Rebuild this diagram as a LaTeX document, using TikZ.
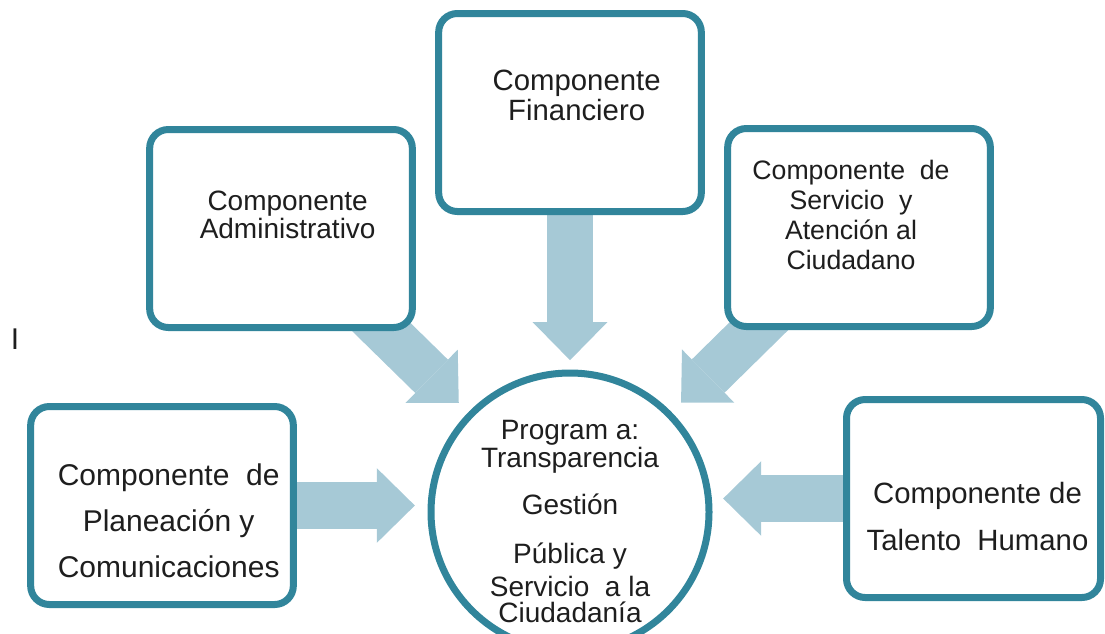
\documentclass[tikz,border=0pt]{standalone}
\usepackage{fontspec}
\setmainfont{Liberation Sans}
\usepackage{tikz}
\usetikzlibrary{
	arrows.meta,
	positioning
}
\pgfdeclarelayer{bg}
\pgfsetlayers{bg,main}
\definecolor{rimcolor}{RGB}{49,133,155}
\definecolor{flowcolor}{RGB}{166,201,214}
\definecolor{inkcolor}{RGB}{30,30,30}

\begin{document}
\begin{tikzpicture}[
				x=0.75pt, y=-0.75pt,
				compbox/.style={
					rectangle, draw=rimcolor, line width=5.25pt,
					rounded corners=14pt, fill=white, inner sep=0pt,
					minimum width=197pt, minimum height=148.5pt
				},
				progcircle/.style={
					circle, draw=rimcolor, line width=5.25pt,
					fill=white, inner sep=0pt, minimum size=208.5pt
				},
				boxtext/.style={
					align=center, inner sep=0pt, text=inkcolor
				},
				bigarrow/.style={
					flowcolor, line width=35pt, shorten <=-40pt,
					-{Triangle[length=28.5pt, width=56pt, line width=0pt]}
				}
				]
				\useasboundingbox (0,0) rectangle (1105,633);
				
				% Planeacion
				\node[compbox] (plan) at (162,505.5) {};
				
				% Administrativo
				\node[compbox] (admin) at (281,228.5) {};
				
				% Financiero
				\node[compbox] (fin) at (570,112.5) {};
				
				% Servicio
				\node[compbox] (serv) at (859,227.5) {};
				
				% Talento
				\node[compbox, minimum width=190.5pt] (talent) at (973.5,498.5) {};
				
				% programa (center)
				\node[progcircle] (prog) at (570,512) {};
				
				% texts
				\node[boxtext, font=\fontsize{22.5pt}{34.5pt}\selectfont, below=45pt of plan.north, xshift=5pt] (plantext)
					{Componente\ \ de\\Planeación y\\Comunicaciones};
				\node[boxtext, font=\fontsize{21pt}{21pt}\selectfont, below=48.75pt of admin.north, xshift=5pt] (admintext)
					{Componente\\Administrativo};
				\node[boxtext, font=\fontsize{22pt}{22.5pt}\selectfont, below=45pt of fin.north, xshift=5pt] (fintext)
					{Componente\\Financiero};
				\node[boxtext, font=\fontsize{20pt}{22.5pt}\selectfont, below=26.25pt of serv.north, xshift=-6pt] (servtext)
					{Componente\ \ de\\Servicio\ \ y\\Atención al\\Ciudadano};
				\node[boxtext, font=\fontsize{22pt}{35.25pt}\selectfont, below=64.5pt of talent.north, xshift=3pt] (talenttext)
					{Componente de\\Talento\ \ Humano};
				\node[boxtext, font=\fontsize{21pt}{19.5pt}\selectfont, below=38pt of prog.north] (progtext)
					{Program a:\\Transparencia\\[15pt]Gestión\\[17pt]Pública y\\[4pt]Servicio\ \ a la\\Ciudadanía};
				
				% stray mark
				\node[boxtext, font=\fontsize{22.5pt}{22.5pt}\selectfont] (mark) at (15,339) {I};
				
				% block arrows behind the boxes
				\begin{pgfonlayer}{bg}
				\draw[bigarrow, shorten >=9.5pt] (plan.east) -- (plan.east -| prog.west);
				\draw[bigarrow, shorten >=10pt] (admin) -- (prog);
				\draw[bigarrow, shorten >=7pt] (fin) -- (prog);
				\draw[bigarrow, shorten >=10pt] (serv) -- (prog);
				\draw[bigarrow, shorten >=8pt] (talent.west) -- (talent.west -| prog.east);
				\end{pgfonlayer}
			\end{tikzpicture}
\end{document}
